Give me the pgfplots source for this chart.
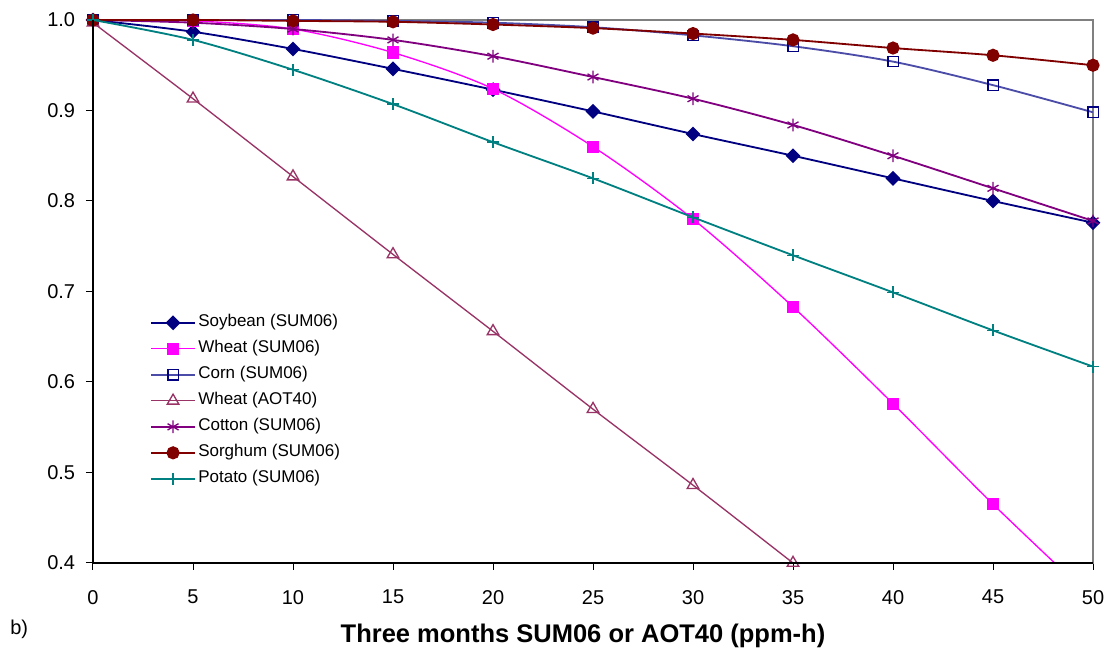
\documentclass[border=0pt]{standalone}
\usepackage{fontspec}
\setmainfont{Liberation Sans}
\usepackage{pgfplots}
\pgfplotsset{compat=1.18}
\definecolor{soy}{HTML}{000080}
\definecolor{whs}{HTML}{FF00FF}
\definecolor{cornl}{HTML}{4B4BA8}
\definecolor{wha}{HTML}{993366}
\definecolor{cot}{HTML}{800080}
\definecolor{sor}{HTML}{800000}
\definecolor{pot}{HTML}{008080}

\begin{document}
\begin{tikzpicture}
\path[use as bounding box] (-55.8pt,-54.6pt) rectangle (609.6pt,337.8pt);
\begin{axis}[
  at={(0,0)}, anchor=south west, scale only axis,
  width=600pt, height=325.8pt,
  xmin=0, xmax=50, ymin=0.4, ymax=1.0,
  xtick={0,5,...,50},
  ytick={0.4,0.5,0.6,0.7,0.8,0.9,1.0},
  tick align=outside, xtick pos=left, ytick pos=left,
  major tick length=4.2pt,
  tick style={black, line width=0.6pt},
  axis line style={draw=gray, line width=0.8pt},
  clip mode=individual,
  /pgf/number format/assume math mode=true,
  yticklabel style={/pgf/number format/fixed, /pgf/number format/fixed zerofill,
    /pgf/number format/precision=1, xshift=-3pt},
  xticklabel style={yshift=-8.5pt},
  tick label style={font=\fontsize{12}{14}\selectfont},
  xlabel={Three months SUM06 or AOT40 (ppm-h)},
  xlabel style={at={(axis description cs:0.49,0)}, anchor=base, yshift=-48pt,
    font=\fontsize{15.3}{18}\bfseries},
  every axis plot/.append style={smooth, line width=1.1pt},
  legend cell align=left,
  legend style={draw=none, fill=none, at={(0.052,0.469)}, anchor=north west,
    font=\fontsize{10.2}{12}\selectfont, row sep=2.6pt,
    nodes={text height=7.5pt, text depth=2.5pt, inner sep=1.5pt}},
  legend image code/.code={\draw[mark repeat=2,mark phase=2]
    plot coordinates {(0cm,0cm) (0.46cm,0cm) (0.92cm,0cm)};},
]
\addplot[soy, mark=square*, mark size=2.6pt, mark options={fill=soy, rotate=45}] coordinates {
  (0,1.0) (5,0.987) (10,0.968) (15,0.946) (20,0.923) (25,0.899)
  (30,0.874) (35,0.850) (40,0.825) (45,0.800) (50,0.776)};
\addlegendentry{Soybean (SUM06)}
\addplot[whs, line width=0.8pt, mark=square*, mark size=3.3pt, mark options={fill=whs}] coordinates {
  (0,1.0) (5,0.999) (10,0.990) (15,0.964) (20,0.924) (25,0.860)
  (30,0.780) (35,0.683) (40,0.576) (45,0.465) (50,0.360)};
\addlegendentry{Wheat (SUM06)}
\addplot[cornl, mark=square, mark size=3.1pt, mark options={draw=soy, fill=white, line width=0.8pt}] coordinates {
  (0,1.0) (5,1.0) (10,1.0) (15,0.999) (20,0.997) (25,0.992)
  (30,0.983) (35,0.971) (40,0.954) (45,0.928) (50,0.898)};
\addlegendentry{Corn (SUM06)}
\addplot[wha, line width=0.8pt, mark=triangle, mark size=4pt, mark options={fill=white, line width=0.8pt}] coordinates {
  (0,0.997) (5,0.913) (10,0.827) (15,0.741) (20,0.656) (25,0.570)
  (30,0.486) (35,0.400) (40,0.314)};
\addlegendentry{Wheat (AOT40)}
\addplot[cot, mark=asterisk, mark size=3.8pt, mark options={line width=0.8pt}] coordinates {
  (0,1.0) (5,0.997) (10,0.990) (15,0.978) (20,0.960) (25,0.937)
  (30,0.913) (35,0.884) (40,0.850) (45,0.814) (50,0.778)};
\addlegendentry{Cotton (SUM06)}
\addplot[sor, mark=*, mark size=3.4pt, mark options={fill=sor}] coordinates {
  (0,1.0) (5,1.0) (10,0.999) (15,0.998) (20,0.995) (25,0.991)
  (30,0.985) (35,0.978) (40,0.969) (45,0.961) (50,0.950)};
\addlegendentry{Sorghum (SUM06)}
\addplot[pot, mark=+, mark size=3.6pt, mark options={line width=0.8pt}] coordinates {
  (0,1.0) (5,0.978) (10,0.945) (15,0.907) (20,0.865) (25,0.825)
  (30,0.782) (35,0.740) (40,0.699) (45,0.657) (50,0.617)};
\addlegendentry{Potato (SUM06)}
\draw[black, line width=0.8pt] (rel axis cs:0,1) -- (rel axis cs:0,0) -- (rel axis cs:1,0);
\node[anchor=base west, font=\fontsize{12}{14}\selectfont, inner sep=0pt]
  at (axis description cs:-0.083,0) [yshift=-43.2pt] {b)};
\end{axis}
\end{tikzpicture}
\end{document}
